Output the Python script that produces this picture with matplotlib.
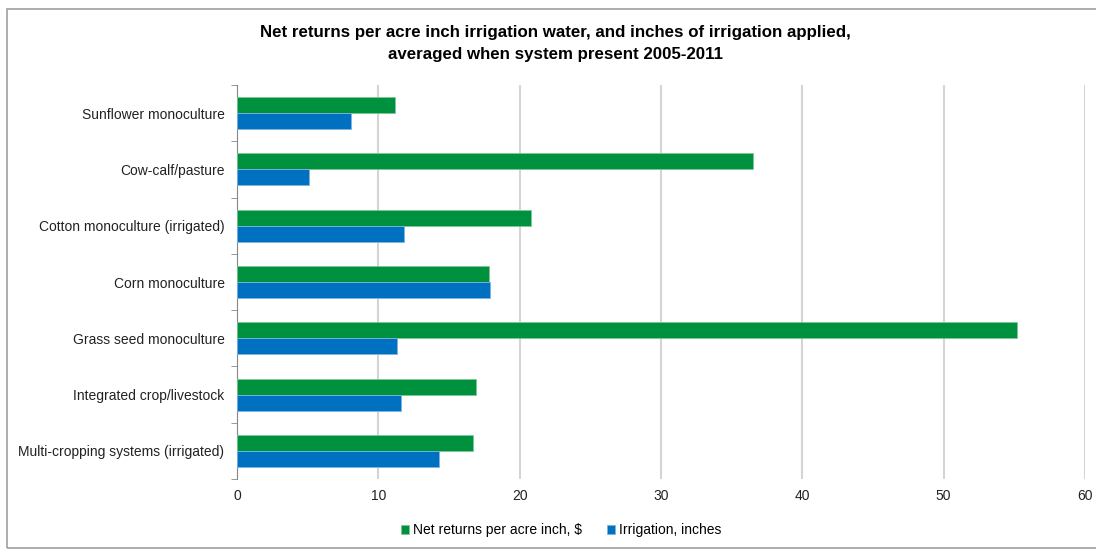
import matplotlib.pyplot as plt
import numpy as np
from matplotlib.patches import Rectangle

# categories top to bottom as in the chart
categories = ['Sunflower monoculture', 'Cow-calf/pasture', 'Cotton monoculture (irrigated)',
              'Corn monoculture', 'Grass seed monoculture', 'Integrated crop/livestock',
              'Multi-cropping systems (irrigated)']
net_returns = [11.2, 36.5, 20.8, 17.8, 55.2, 16.9, 16.7]
irrigation = [8.1, 5.1, 11.8, 17.9, 11.3, 11.6, 14.3]

green = '#00913F'
blue = '#0070C0'


def main():
    plt.rcParams['font.family'] = ['Liberation Sans', 'DejaVu Sans']
    fig = plt.figure(figsize=(10.96, 5.51), dpi=100)
    ax = fig.add_axes([237 / 1096, 1 - 479 / 551, (1085 - 237) / 1096, (479 - 85) / 551])

    y = np.arange(len(categories))[::-1]
    h = 0.285
    ax.barh(y + h / 2, net_returns, height=h, color=green, edgecolor='#7fc79a',
            linewidth=0.6, label='Net returns per acre inch, $', zorder=3)
    ax.barh(y - h / 2, irrigation, height=h, color=blue, edgecolor='#7fb4e0',
            linewidth=0.6, label='Irrigation, inches', zorder=3)

    ax.set_xlim(0, 60)
    ax.set_ylim(-0.5, len(categories) - 0.5)
    ax.set_xticks(range(0, 61, 10))
    ax.set_yticks(y)
    ax.set_yticklabels(categories)
    ax.set_yticks(np.arange(-0.5, len(categories), 1), minor=True)
    ax.tick_params(axis='y', which='major', length=0, pad=9, labelsize=10, labelcolor='#222222')
    ax.tick_params(axis='y', which='minor', length=4, color='#888888', direction='out')
    ax.tick_params(axis='x', length=0, pad=7, labelsize=10, labelcolor='#222222')

    ax.grid(axis='x', color='#d4d4d4', linewidth=1.5, zorder=0)
    for side in ['top', 'right', 'bottom']:
        ax.spines[side].set_visible(False)
    ax.spines['left'].set_color('#888888')

    fig.text(0.507, 1 - 33 / 551, 'Net returns per acre inch irrigation water, and inches of irrigation applied,',
             ha='center', va='center', fontsize=12.2, fontweight='bold')
    fig.text(0.507, 1 - 55 / 551, 'averaged when system present 2005-2011',
             ha='center', va='center', fontsize=12.2, fontweight='bold')

    fig.legend(loc='center', bbox_to_anchor=(0.512, 1 - 530 / 551), ncol=2, frameon=False,
               fontsize=10, handlelength=0.6, handleheight=0.6, handletextpad=0.25, columnspacing=1.8)

    fig.patches.append(Rectangle((7 / 1096, 0.005), 1.2, 1 - 9 / 551 - 0.005, transform=fig.transFigure,
                                 fill=False, edgecolor='#a0a0a0', linewidth=1.2))

    fig.savefig('out.png', dpi=100)


if __name__ == '__main__':
    main()
